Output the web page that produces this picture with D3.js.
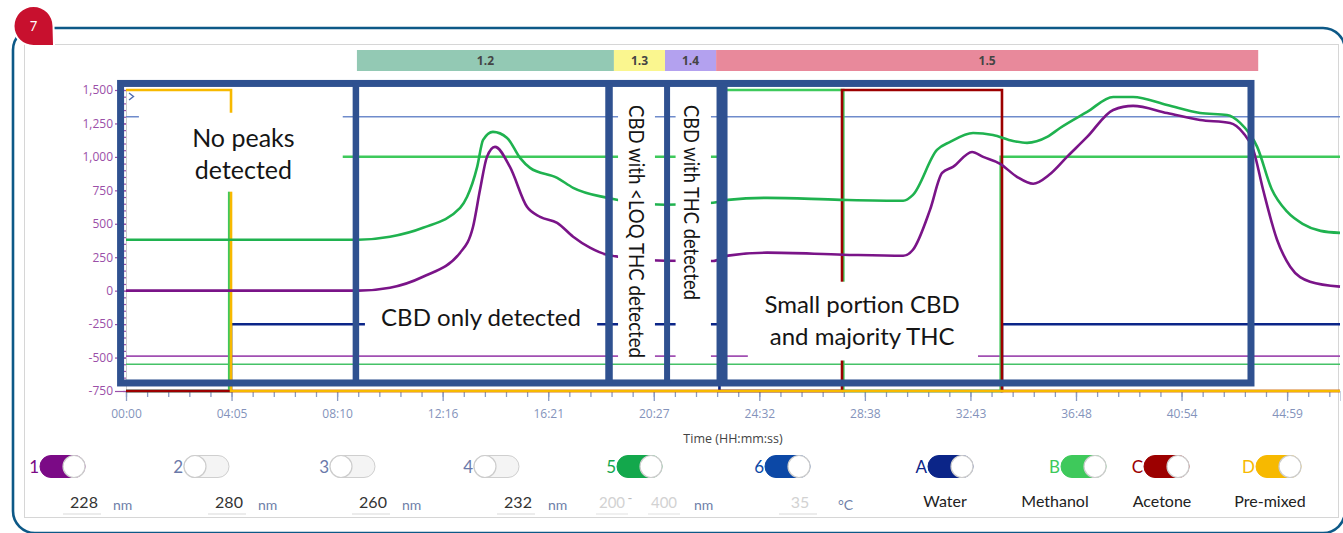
<!DOCTYPE html>
<html>
<head>
<meta charset="utf-8">
<script src="https://cdn.jsdelivr.net/npm/d3@7"></script>
<style>
body { margin: 0; background: #fff; }
svg { display: block; }
</style>
</head>
<body>
<svg id="chart" width="1343" height="533"></svg>
<script>
// ---------- data ----------
var xTickLabels = ['00:00','04:05','08:10','12:16','16:21','20:27','24:32','28:38','32:43','36:48','40:54','44:59'];
var xTickStep = 4.0909;            // minutes between labelled ticks
var yTickValues = [-750,-500,-250,0,250,500,750,1000,1250,1500];

// channel 1 (228 nm, purple) - time in minutes, signal
var ch1Time  = [0, 9.0, 10.23, 11.51, 12.95, 13.45, 13.72, 13.99, 14.30, 14.88, 15.54, 16.05, 16.71, 17.33, 17.98, 18.64, 20.89, 22.75, 23.33, 24.85, 27.80, 30.12, 30.50, 31.16, 31.63, 32.05, 32.79, 33.22, 33.88, 34.53, 35.16, 35.78, 36.47, 37.25, 38.26, 39.03, 40.35, 41.63, 42.79, 43.30, 43.69, 44.07, 44.61, 45.12, 45.89, 47.05];
var ch1Value = [0, 0, 22, 104, 284, 478, 754, 1000, 1075, 925, 627, 552, 507, 403, 321, 269, 224, 222, 262, 284, 269, 261, 306, 604, 881, 925, 1037, 1000, 948, 851, 799, 866, 1000, 1149, 1351, 1381, 1328, 1276, 1254, 1179, 1052, 754, 381, 179, 67, 30];

// channel 5 (200-400 nm, green)
var ch5Time  = [0, 9.0, 10.23, 11.51, 12.95, 13.22, 13.61, 13.84, 14.22, 14.77, 15.27, 15.66, 16.71, 17.33, 18.64, 20.89, 22.75, 23.33, 24.85, 27.68, 30.12, 30.50, 31.43, 31.94, 32.83, 33.60, 34.38, 34.92, 35.70, 36.20, 37.25, 38.26, 39.03, 40.35, 41.63, 42.67, 43.18, 43.84, 44.40, 45.00, 45.60, 46.30, 47.05];
var ch5Value = [381, 381, 403, 470, 619, 702, 925, 1127, 1187, 1142, 993, 918, 843, 769, 694, 642, 657, 679, 694, 679, 672, 716, 1052, 1112, 1179, 1164, 1119, 1105, 1149, 1216, 1336, 1448, 1448, 1388, 1328, 1313, 1254, 1075, 760, 590, 500, 447, 432];

// flat reference levels (channel 6, ch1 / ch5 thresholds)
var refLevels = [1300, -490, -550];
var refColors = ['#6f8bcb', '#a14fb2', '#45c267'];
var refWidths = [1.6, 1.8, 1.3];

// pump programme, % of flow
var waterTime = [0, 4.07, 23.0, 33.95, 47.05],            waterPct = [0, 22.2, 0, 22.2, 22.2];
var methanolTime = [0, 4.0, 23.0, 27.8, 33.9, 47.05],      methanolPct = [0, 77.8, 100, 0, 77.8, 77.8];
var acetoneTime = [0, 27.75, 33.95, 47.05],                acetonePct = [0, 100, 0, 0];
var premixTime = [0, 4.07, 47.05],                          premixPct = [100, 0, 0];

// method phases
var phaseNames = ['1.2', '1.3', '1.4', '1.5'];
var phaseStart = [8.95, 18.91, 20.89, 22.87];
var phaseEnd   = [18.91, 20.89, 22.87, 43.88];
var phaseColors = ['#93c9b4', '#faf68f', '#b3a1ef', '#e8899b'];

// legend
var channelIds = ['1','2','3','4','5','6'];
var channelOn = [true, false, false, false, true, true];
var channelColors = ['#7b0a86', '#6b79a9', '#6b79a9', '#6b79a9', '#13a84c', '#0c48a6'];
var channelValues = ['228','280','260','232','200 - 400','35'];
var channelEditable = [true, true, true, true, false, false];
var channelUnits = ['nm','nm','nm','nm','nm','°C'];
var pumpIds = ['A','B','C','D'];
var pumpNames = ['Water','Methanol','Acetone','Pre-mixed'];
var pumpColors = ['#0b2588', '#3ec95b', '#9c0000', '#f7b900'];

// ---------- layout ----------
var svg = d3.select('#chart');
var x = d3.scaleLinear().domain([0, 47.05]).range([126, 1340]);
var y = d3.scaleLinear().domain([-750, 1500]).range([391, 90]);
var pct = d3.scaleLinear().domain([0, 100]).range([-750, 1500]);

var navy = '#2f5190';
var annoFont = 'Lato, "Open Sans", sans-serif';
var tickFont = '"Open Sans", "Noto Sans", sans-serif';

// outer frame
svg.append('rect')
  .attr('x', 13).attr('y', 28).attr('width', 1332).attr('height', 505)
  .attr('rx', 22).attr('ry', 22)
  .attr('fill', 'none').attr('stroke', '#0d5987').attr('stroke-width', 2.6);
svg.append('rect')
  .attr('x', 24.5).attr('y', 44.5).attr('width', 1314).attr('height', 473)
  .attr('fill', 'none').attr('stroke', '#d6d6d6').attr('stroke-width', 1);

// badge
svg.append('path')
  .attr('d', 'M53,45 H33.5 A19,19 0 1 1 52.5,26 Z')
  .attr('fill', '#c8102e').attr('stroke', '#fff').attr('stroke-width', 4)
  .attr('paint-order', 'stroke');
svg.append('text').attr('x', 33.5).attr('y', 31)
  .attr('text-anchor', 'middle').attr('fill', '#fff')
  .style('font', '13px ' + annoFont).text('7');

// phase bar
var phases = svg.append('g');
phaseNames.forEach(function(n, i) {
  phases.append('rect')
    .attr('x', x(phaseStart[i])).attr('y', 50)
    .attr('width', x(phaseEnd[i]) - x(phaseStart[i])).attr('height', 21)
    .attr('fill', phaseColors[i]);
  phases.append('text')
    .attr('x', (x(phaseStart[i]) + x(phaseEnd[i])) / 2).attr('y', 65)
    .attr('text-anchor', 'middle').attr('fill', '#444')
    .style('font', 'bold 12px ' + tickFont).text(n);
});

// x axis
var xMajor = d3.range(xTickLabels.length).map(function(i) { return i * xTickStep; });
var xMinor = d3.range(0, 58).map(function(i) { return i * xTickStep / 5; }).filter(function(d) { return d <= 47.05; });
var xMinorAxis = svg.append('g').attr('transform', 'translate(0,391)')
  .call(d3.axisBottom(x).tickValues(xMinor).tickSize(6).tickFormat(''));
var xAxis = svg.append('g').attr('transform', 'translate(0,391)')
  .call(d3.axisBottom(x).tickValues(xMajor).tickSize(10).tickPadding(8)
    .tickFormat(function(d, i) { return xTickLabels[i]; }));
[xMinorAxis, xAxis].forEach(function(g) {
  g.select('.domain').attr('stroke', '#c9cfe0');
  g.selectAll('.tick line').attr('stroke', '#8a9ac2').attr('stroke-width', 1.3);
  g.selectAll('text').attr('fill', '#8493bb').style('font', '12px ' + tickFont);
});
svg.append('text').attr('x', 733).attr('y', 443)
  .attr('text-anchor', 'middle').attr('fill', '#444')
  .style('font', '12.5px ' + tickFont).text('Time (HH:mm:ss)');

// y axis
var yMinor = d3.range(-750, 1501, 50);
var yMinorAxis = svg.append('g').attr('transform', 'translate(126,0)')
  .call(d3.axisLeft(y).tickValues(yMinor).tickSize(3).tickFormat(''));
var yAxis = svg.append('g').attr('transform', 'translate(126,0)')
  .call(d3.axisLeft(y).tickValues(yTickValues).tickSize(11).tickPadding(2)
    .tickFormat(function(d) { return d3.format(',')(d).replace('\u2212', '-'); }));
[yMinorAxis, yAxis].forEach(function(g) {
  g.select('.domain').attr('stroke', '#cccccc');
  g.selectAll('.tick line').attr('stroke', '#9b4fa8').attr('stroke-width', 1.2);
  g.selectAll('text').attr('fill', '#9b4fa8').style('font', '12px ' + tickFont);
});

// reference levels
var plot = svg.append('g');
refLevels.forEach(function(v, i) {
  plot.append('line')
    .attr('x1', x(0)).attr('x2', x(47.05)).attr('y1', y(v)).attr('y2', y(v))
    .attr('stroke', refColors[i]).attr('stroke-width', refWidths[i]);
});

// pump programme (stepped)
var step = d3.line().curve(d3.curveStepAfter)
  .x(function(d) { return x(d[0]); }).y(function(d) { return y(pct(d[1])); });
[[waterTime, waterPct], [methanolTime, methanolPct], [acetoneTime, acetonePct], [premixTime, premixPct]]
  .forEach(function(p, i) {
    plot.append('path')
      .datum(d3.zip(p[0], p[1]))
      .attr('d', step).attr('fill', 'none')
      .attr('stroke', pumpColors[i]).attr('stroke-width', 2.6);
  });

// detector traces
var trace = d3.line().curve(d3.curveMonotoneX)
  .x(function(d) { return x(d[0]); }).y(function(d) { return y(d[1]); });
plot.append('path').datum(d3.zip(ch5Time, ch5Value))
  .attr('d', trace).attr('fill', 'none').attr('stroke', '#1fb24f').attr('stroke-width', 2.6);
plot.append('path').datum(d3.zip(ch1Time, ch1Value))
  .attr('d', trace).attr('fill', 'none').attr('stroke', '#7a1488').attr('stroke-width', 2.6);

// annotation boxes over the run
var boxT = [-0.21, 43.6], boxV = [1549, -690];
var dividerT = [8.91, 18.72, 20.97, 23.1];
var dividerW = [6.5, 7.5, 6, 11];
svg.append('rect')
  .attr('x', x(boxT[0])).attr('y', y(boxV[0]))
  .attr('width', x(boxT[1]) - x(boxT[0])).attr('height', y(boxV[1]) - y(boxV[0]))
  .attr('fill', 'none').attr('stroke', navy).attr('stroke-width', 7);
dividerT.forEach(function(t, i) {
  svg.append('line')
    .attr('x1', x(t)).attr('x2', x(t)).attr('y1', y(boxV[0])).attr('y2', y(boxV[1]))
    .attr('stroke', navy).attr('stroke-width', dividerW[i]);
});

// text panels (white backing hides the traces)
var maskT0 = [0.5, 9.26, 19.07, 21.3, 24.1];
var maskT1 = [8.4, 18.26, 20.5, 22.67, 33.02];
var maskV0 = [1330, -67, 1463, 1463, 67];
var maskV1 = [740, -380, -530, -530, -522];
maskT0.forEach(function(t, i) {
  svg.append('rect')
    .attr('x', x(t)).attr('y', y(maskV0[i]))
    .attr('width', x(maskT1[i]) - x(t)).attr('height', y(maskV1[i]) - y(maskV0[i]))
    .attr('fill', '#fff');
});

function label(px, py, lines, size, gap) {
  var t = svg.append('text').attr('text-anchor', 'middle').attr('fill', '#151515')
    .style('font', size + 'px ' + annoFont);
  lines.forEach(function(s, i) {
    t.append('tspan').attr('x', px).attr('y', py + i * gap).text(s);
  });
}
label(x(4.55), 147, ['No peaks', 'detected'], 25, 31.5);
label(x(13.76), 326, ['CBD only detected'], 24, 0);
label(x(28.53), 313, ['Small portion CBD', 'and majority THC'], 24, 32);

function vlabel(px, py, s, len) {
  svg.append('text')
    .attr('transform', 'translate(' + px + ',' + py + ') rotate(90)')
    .attr('text-anchor', 'middle').attr('dominant-baseline', 'central')
    .attr('textLength', len).attr('lengthAdjust', 'spacingAndGlyphs')
    .attr('fill', '#151515').style('font', '22px ' + annoFont).text(s);
}
vlabel(637, 231.5, 'CBD with <LOQ THC detected', 253);
vlabel(692, 202.5, 'CBD with THC detected', 195);

// small chevron at the plot corner
svg.append('path').attr('d', 'M129,93 L133.5,96.5 L129,100')
  .attr('fill', 'none').attr('stroke', '#4f6cb0').attr('stroke-width', 1.4);

// ---------- legend ----------
var chanToggleX = [40, 184, 330, 474, 617, 765];
var pumpToggleX = [928, 1061, 1144, 1256];
var chanValueX = [84, 229, 373, 518, 637, 800];
var chanUnitX = [113, 258, 402, 548, 694, 838];
var pumpNameX = [945, 1055, 1162, 1270];

function toggle(tx, id, on, col) {
  var g = svg.append('g');
  g.append('text').attr('x', tx - 1).attr('y', 473).attr('fill', col)
    .attr('text-anchor', 'end')
    .style('font', '17px ' + annoFont).text(id);
  g.append('rect').attr('x', tx).attr('y', 455.5).attr('width', 45).attr('height', 22).attr('rx', 11)
    .attr('fill', on ? col : '#f4f4f4').attr('stroke', on ? col : '#cfcfcf').attr('stroke-width', 1);
  g.append('circle').attr('cx', on ? tx + 34 : tx + 11).attr('cy', 466.5).attr('r', 11)
    .attr('fill', '#fff').attr('stroke', '#cdcdcd').attr('stroke-width', 1.2);
}
channelIds.forEach(function(id, i) {
  toggle(chanToggleX[i], id, channelOn[i], channelColors[i]);
  var valCol = channelEditable[i] ? '#333' : '#d2d2d2';
  var parts = channelValues[i].split(' - ');
  if (parts.length === 2) {
    [[612, parts[0]], [664, parts[1]]].forEach(function(p) {
      svg.append('text').attr('x', p[0]).attr('y', 508).attr('text-anchor', 'middle')
        .attr('fill', valCol).style('font', '15px ' + annoFont).text(p[1]);
      svg.append('line').attr('x1', p[0] - 16).attr('x2', p[0] + 16).attr('y1', 514).attr('y2', 514)
        .attr('stroke', '#ebebeb').attr('stroke-width', 1.5);
    });
    svg.append('text').attr('x', 630).attr('y', 503).attr('text-anchor', 'middle')
      .attr('fill', '#bbb').style('font', '13px ' + annoFont).text('-');
  } else {
    svg.append('text').attr('x', chanValueX[i]).attr('y', 508).attr('text-anchor', 'middle')
      .attr('fill', valCol).style('font', '16px ' + annoFont).text(channelValues[i]);
    svg.append('line').attr('x1', chanValueX[i] - 21).attr('x2', chanValueX[i] + 17)
      .attr('y1', 514).attr('y2', 514).attr('stroke', '#e6e6e6').attr('stroke-width', 1.5);
  }
  svg.append('text').attr('x', chanUnitX[i]).attr('y', 510)
    .attr('fill', '#6f7fa9').style('font', '14px ' + annoFont).text(channelUnits[i]);
});
pumpIds.forEach(function(id, i) {
  toggle(pumpToggleX[i], id, true, pumpColors[i]);
  svg.append('text').attr('x', pumpNameX[i]).attr('y', 507).attr('text-anchor', 'middle')
    .attr('fill', '#222').style('font', '16px ' + annoFont).text(pumpNames[i]);
});
</script>
</body>
</html>
